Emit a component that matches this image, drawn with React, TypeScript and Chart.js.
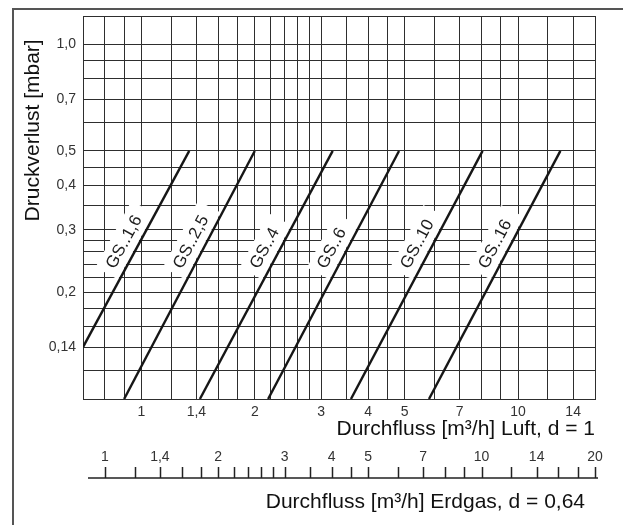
import React, { useEffect, useRef } from 'react';
import { Chart, registerables } from 'chart.js';

Chart.register(...registerables);

// ---- data ----
const luftMin = 0.7;
const luftMax = 16;
const erdgasFactor = 1.25; // Luft = 0.8 * Erdgas (d = 0,64)
const luftGridValues = [0.7, 0.8, 0.9, 1, 1.2, 1.4, 1.6, 1.8, 2, 2.2, 2.4, 2.6, 2.8, 3, 3.5, 4, 4.5, 5, 6, 7, 8, 9, 10, 12, 14, 16];
const luftLabelValues = [1, 1.4, 2, 3, 4, 5, 7, 10, 14];
const erdgasTickValues = [1, 1.2, 1.4, 1.6, 1.8, 2, 2.2, 2.4, 2.6, 2.8, 3, 3.5, 4, 4.5, 5, 6, 7, 8, 9, 10, 12, 14, 16, 18, 20];
const erdgasLabelValues = [1, 1.4, 2, 3, 4, 5, 7, 10, 14, 20];
const pressureGridValues = [0.1, 0.12, 0.14, 0.16, 0.18, 0.2, 0.22, 0.24, 0.26, 0.28, 0.3, 0.35, 0.4, 0.45, 0.5, 0.6, 0.7, 0.8, 0.9, 1.0, 1.2];
const pressureLabelValues = [0.14, 0.2, 0.3, 0.4, 0.5, 0.7, 1.0];

const filterNames = ['GS..1,6', 'GS..2,5', 'GS..4', 'GS..6', 'GS..10', 'GS..16'];
const flowStart = [0.7, 0.9, 1.43, 2.17, 3.6, 5.8];
const pressureStart = [0.14, 0.1, 0.1, 0.1, 0.1, 0.1];
const flowEnd = [1.34, 2.0, 3.22, 4.83, 8.05, 12.95];
const pressureEnd = [0.5, 0.5, 0.5, 0.5, 0.5, 0.5];
const labelPressure = 0.225;

const FONT = "'Liberation Sans', Arial, Helvetica, sans-serif";
const GRID = '#2e2e2e';

function fmt(v: number, forceDecimal = false): string {
  if (forceDecimal && Number.isInteger(v)) return v + ',0';
  return String(v).replace('.', ',');
}

function labelGeom(chart: any, i: number) {
  const xs = chart.scales.x;
  const ys = chart.scales.y;
  const x1 = xs.getPixelForValue(flowStart[i]);
  const y1 = ys.getPixelForValue(pressureStart[i]);
  const x2 = xs.getPixelForValue(flowEnd[i]);
  const y2 = ys.getPixelForValue(pressureEnd[i]);
  const t = (Math.log(labelPressure) - Math.log(pressureStart[i])) / (Math.log(pressureEnd[i]) - Math.log(pressureStart[i]));
  return { px: x1 + t * (x2 - x1), py: y1 + t * (y2 - y1), angle: Math.atan2(y2 - y1, x2 - x1) };
}

const LABEL_FONT_SIZE = 17;
const BASELINE_GAP = 9;

const decorPlugin = {
  id: 'decor',
  beforeDraw(chart: any) {
    const ctx = chart.ctx;
    ctx.save();
    ctx.fillStyle = '#ffffff';
    ctx.fillRect(0, 0, chart.width, chart.height);
    ctx.strokeStyle = '#555555';
    ctx.lineWidth = 2;
    ctx.beginPath();
    ctx.moveTo(13, chart.height + 2);
    ctx.lineTo(13, 9);
    ctx.lineTo(chart.width + 2, 9);
    ctx.stroke();
    ctx.restore();
  },
  beforeDatasetsDraw(chart: any) {
    const ctx = chart.ctx;
    ctx.save();
    ctx.font = `${LABEL_FONT_SIZE}px ${FONT}`;
    for (let i = 0; i < filterNames.length; i++) {
      const g = labelGeom(chart, i);
      const w = ctx.measureText(filterNames[i]).width;
      ctx.save();
      ctx.translate(g.px, g.py);
      ctx.rotate(g.angle);
      ctx.fillStyle = '#ffffff';
      ctx.fillRect(-7, -(BASELINE_GAP + 18), w + 18, BASELINE_GAP + 18 - 1.5);
      ctx.restore();
    }
    ctx.restore();
  },
  afterDatasetsDraw(chart: any) {
    const ctx = chart.ctx;
    ctx.save();
    ctx.font = `${LABEL_FONT_SIZE}px ${FONT}`;
    ctx.fillStyle = '#1e1e1e';
    ctx.textAlign = 'left';
    ctx.textBaseline = 'alphabetic';
    for (let i = 0; i < filterNames.length; i++) {
      const g = labelGeom(chart, i);
      ctx.save();
      ctx.translate(g.px, g.py);
      ctx.rotate(g.angle);
      ctx.fillText(filterNames[i], 0, -BASELINE_GAP);
      ctx.restore();
    }
    ctx.restore();
  },
  afterDraw(chart: any) {
    const ctx = chart.ctx;
    const es = chart.scales.xErdgas;
    const area = chart.chartArea;
    const base = area.bottom;
    ctx.save();
    ctx.strokeStyle = '#222222';
    ctx.lineWidth = 1.5;
    ctx.beginPath();
    ctx.moveTo(area.left + 5, base + 79);
    ctx.lineTo(area.right + 3, base + 79);
    for (const v of erdgasTickValues) {
      const x = Math.round(es.getPixelForValue(v)) + 0.5;
      ctx.moveTo(x, base + 68);
      ctx.lineTo(x, base + 79);
    }
    ctx.stroke();
    ctx.fillStyle = '#333333';
    ctx.font = `14px ${FONT}`;
    ctx.textAlign = 'center';
    ctx.textBaseline = 'middle';
    for (const v of erdgasLabelValues) {
      ctx.fillText(fmt(v), es.getPixelForValue(v), base + 58);
    }
    ctx.fillStyle = '#111111';
    ctx.font = `21px ${FONT}`;
    ctx.textAlign = 'right';
    ctx.fillText('Durchfluss [m³/h] Erdgas, d = 0,64', area.right - 10, base + 103);
    ctx.restore();
  },
};

export default function App() {
  const ref = useRef<HTMLCanvasElement | null>(null);
  useEffect(() => {
    if (!ref.current) return;
    const datasets = filterNames.map((name, i) => ({
      label: name,
      data: [
        { x: flowStart[i], y: pressureStart[i] },
        { x: flowEnd[i], y: pressureEnd[i] },
      ],
      showLine: true,
      borderColor: '#161616',
      borderWidth: 2.4,
      pointRadius: 0,
      fill: false,
    }));
    const chart = new Chart(ref.current, {
      type: 'scatter',
      data: { datasets },
      plugins: [decorPlugin],
      options: {
        animation: false,
        responsive: false,
        events: [],
        layout: { padding: { left: 0, right: 28, top: 16, bottom: 83 } },
        plugins: { legend: { display: false }, tooltip: { enabled: false } },
        scales: {
          x: {
            type: 'logarithmic',
            position: 'bottom',
            min: luftMin,
            max: luftMax,
            afterBuildTicks: (s: any) => {
              s.ticks = luftGridValues.map((v) => ({ value: v }));
            },
            afterFit: (s: any) => {
              s.height = 43;
            },
            grid: { color: GRID, lineWidth: 1, drawTicks: false },
            border: { color: GRID, width: 1 },
            ticks: {
              autoSkip: false,
              maxRotation: 0,
              minRotation: 0,
              padding: 5,
              color: '#333333',
              font: { family: FONT, size: 14 },
              callback: (v: any) => (luftLabelValues.includes(Number(v)) ? fmt(Number(v)) : ''),
            },
            title: {
              display: true,
              text: 'Durchfluss [m³/h] Luft, d = 1',
              align: 'end',
              color: '#111111',
              font: { family: FONT, size: 21 },
              padding: { top: 0, bottom: 0 },
            },
          },
          xErdgas: {
            type: 'logarithmic',
            position: 'bottom',
            display: false,
            min: luftMin * erdgasFactor,
            max: luftMax * erdgasFactor,
          },
          y: {
            type: 'logarithmic',
            position: 'left',
            min: 0.1,
            max: 1.2,
            afterBuildTicks: (s: any) => {
              s.ticks = pressureGridValues.map((v) => ({ value: v }));
            },
            afterFit: (s: any) => {
              s.width = 83;
            },
            grid: { color: GRID, lineWidth: 1, drawTicks: false },
            border: { color: GRID, width: 1 },
            ticks: {
              autoSkip: false,
              padding: 7,
              color: '#333333',
              font: { family: FONT, size: 14 },
              callback: (v: any) => (pressureLabelValues.includes(Number(v)) ? fmt(Number(v), true) : ''),
            },
            title: {
              display: true,
              text: 'Druckverlust [mbar]    ',
              align: 'end',
              color: '#111111',
              font: { family: FONT, size: 21 },
              padding: { top: 21, bottom: 0 },
            },
          },
        },
      } as any,
    });
    return () => chart.destroy();
  }, []);
  return (
    <div style={{ position: 'fixed', left: 0, top: 0, width: 623, height: 525, background: '#fff' }}>
      <canvas ref={ref} width={623} height={525} style={{ display: 'block', width: 623, height: 525 }} />
    </div>
  );
}
